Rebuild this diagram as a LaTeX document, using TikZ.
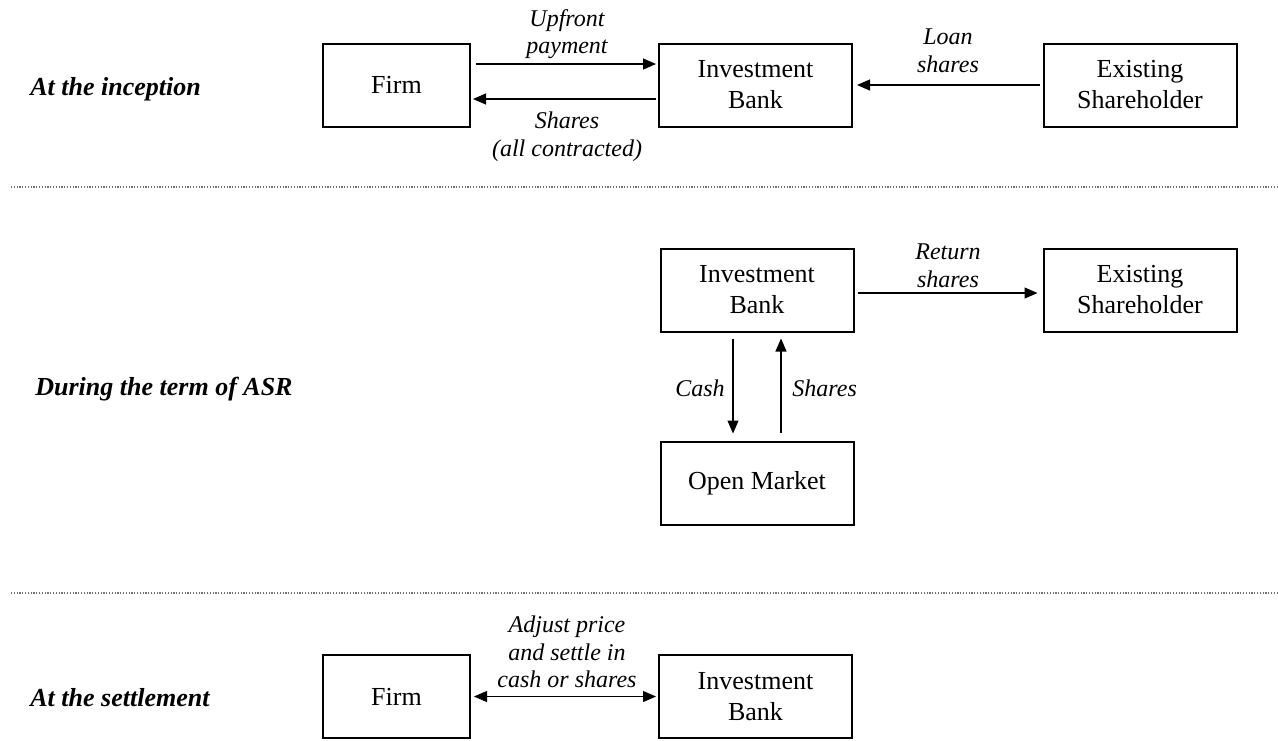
\documentclass[tikz,border=0pt]{standalone}
\usepackage{fontspec}
\setmainfont{Liberation Serif}
\usetikzlibrary{arrows.meta}
\begin{document}
\begin{tikzpicture}[x=0.5pt,y=-0.5pt,
 box/.style={draw, line width=1pt, inner sep=0pt, outer sep=0pt, align=center, font=\fontsize{13}{15.5}\selectfont, minimum height=41.5pt},
 wbox/.style={box, minimum width=96.5pt},
 fbox/.style={box, minimum width=73.5pt},
 tip/.tip={Triangle[length=6.5pt,width=5.5pt]},
 arr/.style={line width=0.6pt, -tip},
 darr/.style={line width=0.6pt, tip-tip},
 lab/.style={font=\fontsize{12}{13.8}\selectfont\itshape, align=center, inner sep=0pt},
 phase/.style={font=\fontsize{13}{15}\selectfont\bfseries\itshape, anchor=west, inner sep=0pt},
 sep/.style={dash pattern=on 0.6pt off 0.8pt, black!55, line width=0.6pt}]
\useasboundingbox (0,0) rectangle (1278,740);

% phase labels
\node[phase] (p1) at (30,89) {At the inception};
\node[phase] (p2) at (35,389) {During the term of ASR};
\node[phase] (p3) at (30,698) {At the settlement};

% separators
\coordinate (s1a) at (11,187); \coordinate (s1b) at (1278,187);
\coordinate (s2a) at (11,593); \coordinate (s2b) at (1278,593);
\draw[sep] (s1a) -- (s1b);
\draw[sep] (s2a) -- (s2b);

% top row
\node[fbox] (firm1) at (396.5,85) {Firm};
\node[wbox] (ib1) at (755.5,85) {Investment\\Bank};
\node[wbox] (es1) at (1140,85) {Existing\\Shareholder};
\draw[arr] ([xshift=3pt,yshift=10.5pt]firm1.east) -- ([xshift=-1.5pt,yshift=10.5pt]ib1.west);
\draw[arr] ([xshift=-1.5pt,yshift=-7pt]ib1.west) -- ([xshift=1.5pt,yshift=-7pt]firm1.east);
\draw[arr] ([xshift=-2pt]es1.west) -- ([xshift=2.5pt]ib1.east);
\node[lab] (l1) at (567,34) {Upfront\\payment};
\node[lab] (l2) at (567,137) {Shares\\(all contracted)};
\node[lab] (l3) at (948,51) {Loan\\shares};

% middle row
\node[wbox] (ib2) at (757,290) {Investment\\Bank};
\node[wbox] (es2) at (1140,290) {Existing\\Shareholder};
\node[wbox] (om) at (757,483) {Open Market};
\draw[arr] ([xshift=2pt,yshift=-1.5pt]ib2.east) -- ([xshift=-3pt,yshift=-1.5pt]es2.west);
\draw[arr] ([xshift=-12pt,yshift=-3.5pt]ib2.south) -- ([xshift=-12pt,yshift=4pt]om.north);
\draw[arr] ([xshift=12pt,yshift=4.5pt]om.north) -- ([xshift=12pt,yshift=-3.5pt]ib2.south);
\node[lab] (l4) at (948,266) {Return\\shares};
\node[lab, anchor=east] (l5) at (725,388) {Cash};
\node[lab, anchor=west] (l6) at (792,388) {Shares};

% bottom row
\node[fbox] (firm3) at (396.5,696.5) {Firm};
\node[wbox] (ib3) at (755.5,696.5) {Investment\\Bank};
\draw[darr] ([xshift=2pt]firm3.east) -- ([xshift=-1.5pt]ib3.west);
\node[lab] (l7) at (567,652) {Adjust price\\and settle in\\cash or shares};
\end{tikzpicture}
\end{document}
